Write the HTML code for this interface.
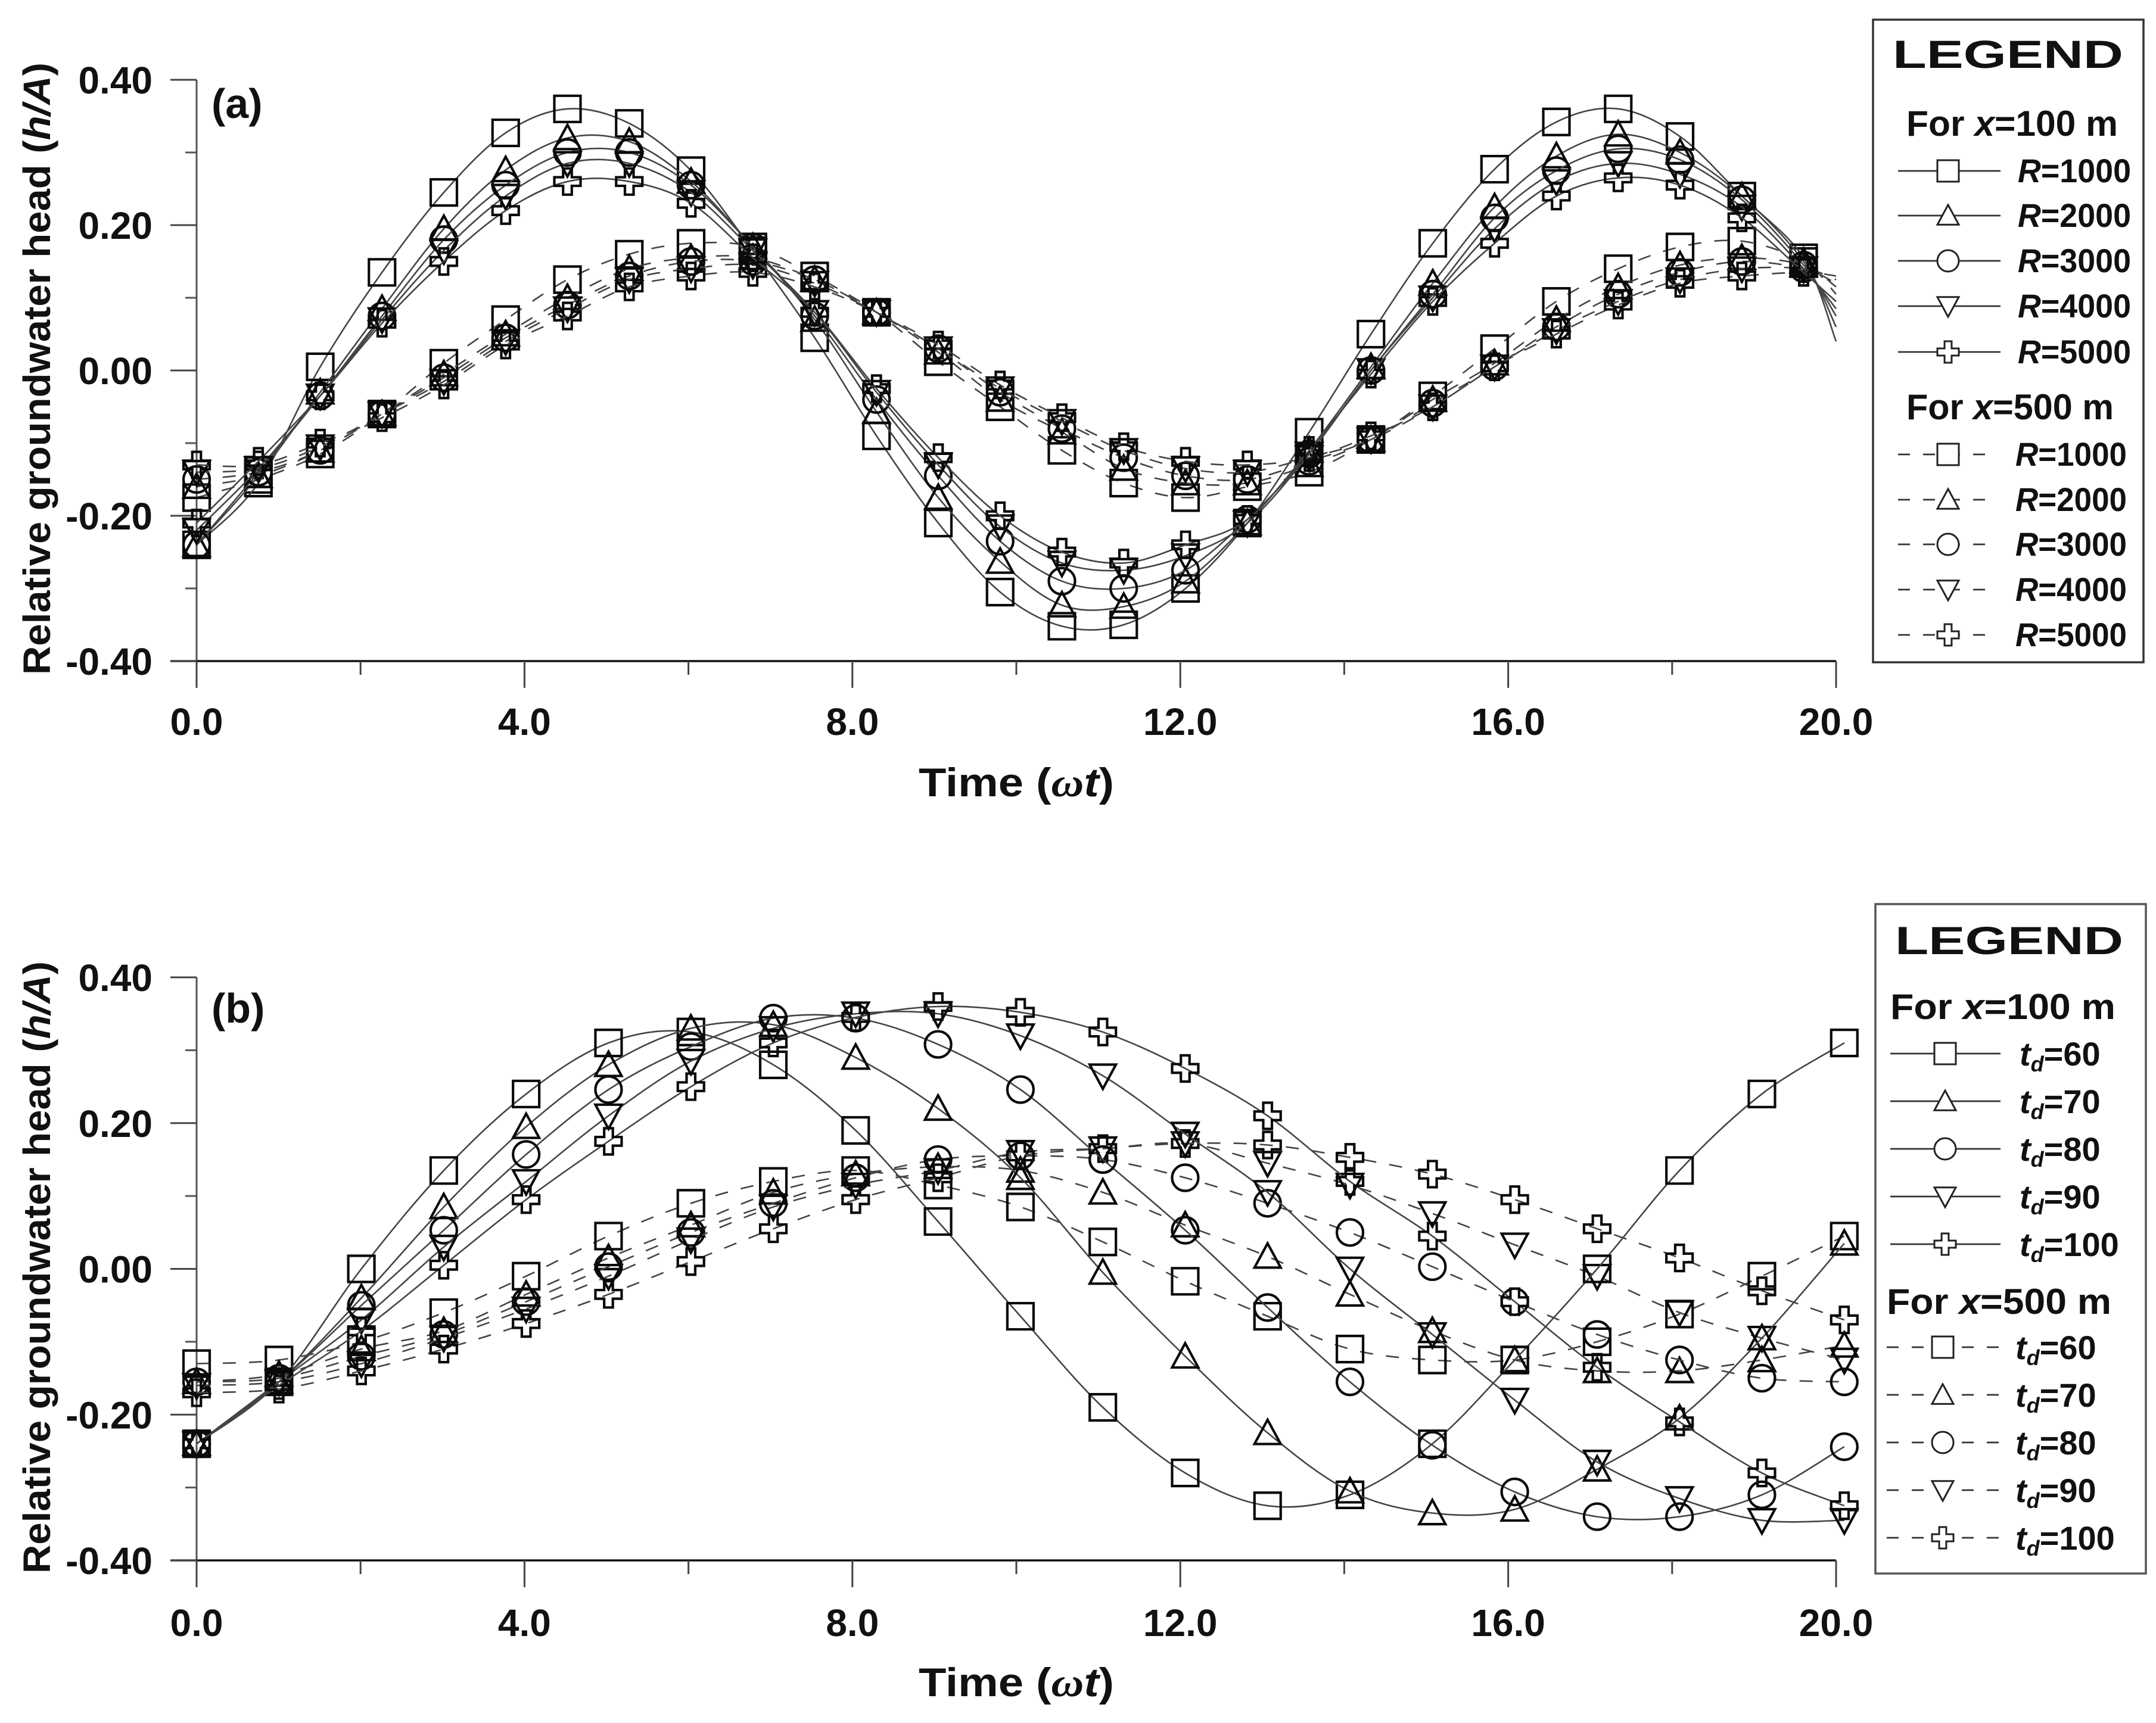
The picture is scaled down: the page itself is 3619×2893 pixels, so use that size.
<!DOCTYPE html>
<html lang="en">
<head>
<meta charset="utf-8">
<title>Relative groundwater head charts</title>
<style>
html,body{margin:0;padding:0;background:#fff;}
svg{display:block;}
text{font-family:"Liberation Sans",sans-serif;font-weight:bold;fill:#111;}
</style>
</head>
<body>
<svg id="figure" xmlns="http://www.w3.org/2000/svg" width="3619" height="2893" viewBox="0 0 3619 2893">
  <rect width="3619" height="2893" fill="#fff"/>

  <g id="panel-a">
    <text x="355" y="198" font-size="70">(a)</text>
    <text transform="translate(84,1133) rotate(-90)" font-size="64" textLength="1028" lengthAdjust="spacingAndGlyphs">Relative groundwater head (<tspan font-style="italic">h/A</tspan>)</text>
    <text x="1542" y="1337" font-size="68" textLength="328" lengthAdjust="spacingAndGlyphs">Time (<tspan font-style="italic" font-family="'Liberation Serif',serif">ω</tspan><tspan font-style="italic">t</tspan>)</text>
  </g>

  <g id="panel-b">
    <text x="355" y="1717" font-size="70">(b)</text>
    <text transform="translate(84,2642) rotate(-90)" font-size="64" textLength="1028" lengthAdjust="spacingAndGlyphs">Relative groundwater head (<tspan font-style="italic">h/A</tspan>)</text>
    <text x="1542" y="2848" font-size="68" textLength="328" lengthAdjust="spacingAndGlyphs">Time (<tspan font-style="italic" font-family="'Liberation Serif',serif">ω</tspan><tspan font-style="italic">t</tspan>)</text>
  </g>

  <g id="legend-a">
    <rect x="3144" y="33" width="454" height="1079" fill="#fff" stroke="#333" stroke-width="3.5"/>
    <text x="3177" y="114" font-size="66" textLength="387" lengthAdjust="spacingAndGlyphs">LEGEND</text>
    <text x="3200" y="228" font-size="60" textLength="355" lengthAdjust="spacingAndGlyphs">For <tspan font-style="italic">x</tspan>=100 m</text>
    <text x="3200" y="704" font-size="60" textLength="348" lengthAdjust="spacingAndGlyphs">For <tspan font-style="italic">x</tspan>=500 m</text>
    <g font-size="56">
      <text x="3387" y="306" textLength="190" lengthAdjust="spacingAndGlyphs"><tspan font-style="italic">R</tspan>=1000</text>
      <text x="3387" y="381" textLength="190" lengthAdjust="spacingAndGlyphs"><tspan font-style="italic">R</tspan>=2000</text>
      <text x="3387" y="457" textLength="190" lengthAdjust="spacingAndGlyphs"><tspan font-style="italic">R</tspan>=3000</text>
      <text x="3387" y="533" textLength="190" lengthAdjust="spacingAndGlyphs"><tspan font-style="italic">R</tspan>=4000</text>
      <text x="3387" y="610" textLength="190" lengthAdjust="spacingAndGlyphs"><tspan font-style="italic">R</tspan>=5000</text>
      <text x="3383" y="782" textLength="187" lengthAdjust="spacingAndGlyphs"><tspan font-style="italic">R</tspan>=1000</text>
      <text x="3383" y="858" textLength="187" lengthAdjust="spacingAndGlyphs"><tspan font-style="italic">R</tspan>=2000</text>
      <text x="3383" y="933" textLength="187" lengthAdjust="spacingAndGlyphs"><tspan font-style="italic">R</tspan>=3000</text>
      <text x="3383" y="1009" textLength="187" lengthAdjust="spacingAndGlyphs"><tspan font-style="italic">R</tspan>=4000</text>
      <text x="3383" y="1085" textLength="187" lengthAdjust="spacingAndGlyphs"><tspan font-style="italic">R</tspan>=5000</text>
    </g>
  </g>

  <g id="legend-b">
    <rect x="3148" y="1518" width="454" height="1124" fill="#fff" stroke="#555" stroke-width="3.5"/>
    <text x="3181" y="1602" font-size="66" textLength="383" lengthAdjust="spacingAndGlyphs">LEGEND</text>
    <text x="3173" y="1711" font-size="60" textLength="378" lengthAdjust="spacingAndGlyphs">For <tspan font-style="italic">x</tspan>=100 m</text>
    <text x="3167" y="2206" font-size="60" textLength="377" lengthAdjust="spacingAndGlyphs">For <tspan font-style="italic">x</tspan>=500 m</text>
    <g font-size="56">
      <text x="3390" y="1789"><tspan font-style="italic">t<tspan font-size="36" dy="10">d</tspan></tspan><tspan dy="-10">=60</tspan></text>
      <text x="3390" y="1869"><tspan font-style="italic">t<tspan font-size="36" dy="10">d</tspan></tspan><tspan dy="-10">=70</tspan></text>
      <text x="3390" y="1949"><tspan font-style="italic">t<tspan font-size="36" dy="10">d</tspan></tspan><tspan dy="-10">=80</tspan></text>
      <text x="3390" y="2029"><tspan font-style="italic">t<tspan font-size="36" dy="10">d</tspan></tspan><tspan dy="-10">=90</tspan></text>
      <text x="3390" y="2109"><tspan font-style="italic">t<tspan font-size="36" dy="10">d</tspan></tspan><tspan dy="-10">=100</tspan></text>
      <text x="3383" y="2282"><tspan font-style="italic">t<tspan font-size="36" dy="10">d</tspan></tspan><tspan dy="-10">=60</tspan></text>
      <text x="3383" y="2362"><tspan font-style="italic">t<tspan font-size="36" dy="10">d</tspan></tspan><tspan dy="-10">=70</tspan></text>
      <text x="3383" y="2442"><tspan font-style="italic">t<tspan font-size="36" dy="10">d</tspan></tspan><tspan dy="-10">=80</tspan></text>
      <text x="3383" y="2522"><tspan font-style="italic">t<tspan font-size="36" dy="10">d</tspan></tspan><tspan dy="-10">=90</tspan></text>
      <text x="3383" y="2602"><tspan font-style="italic">t<tspan font-size="36" dy="10">d</tspan></tspan><tspan dy="-10">=100</tspan></text>
    </g>
  </g>
</svg>

<script>
// ---- chart data ----
const xTickLabels = ['0.0', '4.0', '8.0', '12.0', '16.0', '20.0'];
const xTickValues = [0, 4, 8, 12, 16, 20];
const xMinorValues = [2, 6, 10, 14, 18];
const yTickLabels = ['0.40', '0.20', '0.00', '-0.20', '-0.40'];
const yTickValues = [0.4, 0.2, 0, -0.2, -0.4];
const yMinorValues = [0.3, 0.1, -0.1, -0.3];

const panelATimes = [0, 0.754, 1.508, 2.262, 3.016, 3.77, 4.524, 5.278, 6.032, 6.786, 7.54, 8.294, 9.048, 9.802, 10.556, 11.31, 12.064, 12.818, 13.572, 14.326, 15.08, 15.834, 16.588, 17.342, 18.096, 18.85, 19.604, 20];
const panelAMarkerCount = 27;

const a100R1000 = [-0.24,-0.155,0.005,0.135,0.245,0.327,0.36,0.34,0.275,0.165,0.045,-0.09,-0.21,-0.305,-0.352,-0.35,-0.30,-0.21,-0.085,0.05,0.175,0.277,0.342,0.36,0.322,0.24,0.155,0.04];
const a100R2000 = [-0.24,-0.145,-0.03,0.085,0.195,0.276,0.32,0.315,0.26,0.17,0.07,-0.057,-0.175,-0.263,-0.323,-0.325,-0.29,-0.21,-0.11,0.005,0.12,0.225,0.295,0.325,0.30,0.24,0.15,0.06];
const a100R3000 = [-0.24,-0.14,-0.035,0.075,0.18,0.255,0.30,0.30,0.255,0.17,0.075,-0.04,-0.145,-0.235,-0.29,-0.30,-0.275,-0.205,-0.115,0,0.105,0.21,0.275,0.305,0.29,0.235,0.145,0.075];
const a100R4000 = [-0.22,-0.135,-0.035,0.07,0.165,0.24,0.285,0.285,0.245,0.165,0.08,-0.03,-0.13,-0.215,-0.265,-0.275,-0.255,-0.21,-0.115,0,0.10,0.195,0.26,0.285,0.27,0.225,0.14,0.085];
const a100R5000 = [-0.21,-0.125,-0.035,0.065,0.15,0.22,0.26,0.26,0.23,0.155,0.08,-0.025,-0.12,-0.20,-0.25,-0.265,-0.24,-0.205,-0.11,-0.005,0.095,0.175,0.24,0.265,0.255,0.21,0.135,0.095];
const a500R1000 = [-0.175,-0.15,-0.115,-0.06,0.01,0.07,0.125,0.16,0.175,0.17,0.13,0.08,0.012,-0.05,-0.11,-0.155,-0.175,-0.16,-0.14,-0.095,-0.035,0.03,0.095,0.14,0.17,0.178,0.15,0.105];
const a500R2000 = [-0.16,-0.145,-0.11,-0.06,-0.005,0.05,0.10,0.14,0.155,0.155,0.125,0.08,0.025,-0.04,-0.085,-0.135,-0.155,-0.155,-0.13,-0.095,-0.04,0.01,0.07,0.115,0.145,0.155,0.145,0.115];
const a500R3000 = [-0.15,-0.14,-0.11,-0.06,-0.01,0.045,0.09,0.13,0.15,0.15,0.125,0.08,0.03,-0.03,-0.08,-0.12,-0.145,-0.15,-0.125,-0.095,-0.045,0.005,0.06,0.105,0.135,0.15,0.14,0.12];
const a500R4000 = [-0.14,-0.135,-0.105,-0.06,-0.015,0.04,0.085,0.125,0.14,0.145,0.12,0.08,0.03,-0.025,-0.07,-0.11,-0.135,-0.14,-0.12,-0.095,-0.05,0.005,0.055,0.095,0.125,0.14,0.14,0.125];
const a500R5000 = [-0.13,-0.13,-0.10,-0.065,-0.02,0.035,0.075,0.115,0.13,0.135,0.115,0.08,0.035,-0.02,-0.065,-0.105,-0.125,-0.13,-0.12,-0.09,-0.05,0.005,0.05,0.09,0.12,0.13,0.135,0.13];

const panelBTimes = [0, 1.005, 2.01, 3.015, 4.02, 5.025, 6.03, 7.035, 8.04, 9.045, 10.05, 11.055, 12.06, 13.065, 14.07, 15.075, 16.08, 17.085, 18.09, 19.095, 20.1];
const panelBMarkerCount = 21;

const b100T60 = [-0.24,-0.155,0,0.135,0.24,0.31,0.325,0.28,0.19,0.065,-0.065,-0.19,-0.28,-0.325,-0.31,-0.24,-0.125,0,0.135,0.24,0.31];
const b100T70 = [-0.24,-0.155,-0.04,0.085,0.195,0.28,0.33,0.335,0.29,0.22,0.125,-0.005,-0.12,-0.225,-0.305,-0.335,-0.33,-0.275,-0.205,-0.095,0.035];
const b100T80 = [-0.24,-0.155,-0.05,0.053,0.157,0.246,0.305,0.344,0.344,0.308,0.246,0.15,0.053,-0.053,-0.155,-0.242,-0.306,-0.34,-0.34,-0.31,-0.244];
const b100T90 = [-0.24,-0.155,-0.07,0.03,0.12,0.21,0.285,0.33,0.35,0.35,0.32,0.265,0.185,0.105,0,-0.09,-0.18,-0.265,-0.315,-0.345,-0.345];
const b100T100 = [-0.24,-0.16,-0.085,0.005,0.095,0.175,0.25,0.31,0.345,0.36,0.352,0.325,0.275,0.21,0.12,0.045,-0.045,-0.135,-0.21,-0.28,-0.325];
const b500T60 = [-0.13,-0.125,-0.10,-0.06,-0.01,0.045,0.09,0.12,0.135,0.115,0.085,0.037,-0.017,-0.065,-0.11,-0.125,-0.125,-0.10,-0.062,-0.01,0.045];
const b500T70 = [-0.155,-0.145,-0.11,-0.085,-0.035,0.015,0.06,0.105,0.13,0.14,0.135,0.105,0.06,0.017,-0.035,-0.085,-0.125,-0.14,-0.14,-0.125,-0.105];
const b500T80 = [-0.155,-0.15,-0.12,-0.09,-0.045,0.003,0.05,0.09,0.125,0.15,0.155,0.15,0.125,0.09,0.05,0.003,-0.045,-0.09,-0.125,-0.15,-0.155];
const b500T90 = [-0.16,-0.155,-0.13,-0.095,-0.055,-0.01,0.04,0.085,0.115,0.135,0.16,0.165,0.172,0.145,0.115,0.076,0.033,-0.01,-0.06,-0.095,-0.125];
const b500T100 = [-0.17,-0.165,-0.14,-0.11,-0.075,-0.035,0.01,0.055,0.095,0.125,0.155,0.165,0.172,0.17,0.153,0.13,0.095,0.055,0.015,-0.03,-0.07];

// ---- drawing ----
const SVGNS = 'http://www.w3.org/2000/svg';
const shapeOrder = ['square', 'triangle-up', 'circle', 'triangle-down', 'cross'];
const xAxisOrigin = 330;
const xAxisPerUnit = 137.6;

function xScale(t) {
  return xAxisOrigin + t * xAxisPerUnit;
}
function yScaleFor(yTop, yBottom) {
  return function (v) {
    return yBottom - (v + 0.4) / 0.8 * (yBottom - yTop);
  };
}
function make(tag, attrs, parent) {
  const el = document.createElementNS(SVGNS, tag);
  for (const k in attrs) el.setAttribute(k, attrs[k]);
  parent.appendChild(el);
  return el;
}
function markerPath(shape, x, y, s) {
  const r = s / 2;
  if (shape === 'square') return `M${x-r} ${y-r}H${x+r}V${y+r}H${x-r}Z`;
  if (shape === 'triangle-up') return `M${x} ${y-r}L${x+r} ${y+r*0.85}H${x-r}Z`;
  if (shape === 'triangle-down') return `M${x} ${y+r}L${x+r} ${y-r*0.85}H${x-r}Z`;
  if (shape === 'circle') return `M${x-r} ${y}A${r} ${r} 0 1 1 ${x+r} ${y}A${r} ${r} 0 1 1 ${x-r} ${y}Z`;
  const a = r * 0.33;
  return `M${x-a} ${y-r}H${x+a}V${y-a}H${x+r}V${y+a}H${x+a}V${y+r}H${x-a}V${y+a}H${x-r}V${y-a}H${x-a}Z`;
}
function splinePath(pts) {
  let d = `M${pts[0][0].toFixed(1)} ${pts[0][1].toFixed(1)}`;
  for (let i = 0; i < pts.length - 1; i++) {
    const p0 = pts[Math.max(i - 1, 0)];
    const p1 = pts[i];
    const p2 = pts[i + 1];
    const p3 = pts[Math.min(i + 2, pts.length - 1)];
    const c1x = p1[0] + (p2[0] - p0[0]) / 6;
    const c1y = p1[1] + (p2[1] - p0[1]) / 6;
    const c2x = p2[0] - (p3[0] - p1[0]) / 6;
    const c2y = p2[1] - (p3[1] - p1[1]) / 6;
    d += `C${c1x.toFixed(1)} ${c1y.toFixed(1)} ${c2x.toFixed(1)} ${c2y.toFixed(1)} ${p2[0].toFixed(1)} ${p2[1].toFixed(1)}`;
  }
  return d;
}
function drawAxes(parent, yTop, yBottom, labelBaseline, prefix) {
  const yScale = yScaleFor(yTop, yBottom);
  const g = make('g', {}, parent);
  
  
  const yLine = make('line', {x1: xAxisOrigin, x2: xAxisOrigin, y1: yTop, y2: yBottom, stroke: '#555', 'stroke-width': 3}, g);
  
  
  const xLine = make('line', {x1: 286, x2: xScale(20), y1: yBottom, y2: yBottom, stroke: '#111', 'stroke-width': 3.5}, g);
  
  
  xTickValues.forEach(function (v, i) {
    const tick = make('line', {x1: xScale(v), x2: xScale(v), y1: yBottom, y2: yBottom + 45, stroke: '#444', 'stroke-width': 3}, g);
    
    
    const lab = make('text', {x: xScale(v), y: labelBaseline, 'text-anchor': 'middle', 'font-size': 64}, g);
    
    
    lab.textContent = xTickLabels[i];
  });
  xMinorValues.forEach(function (v) {
    const tick = make('line', {x1: xScale(v), x2: xScale(v), y1: yBottom, y2: yBottom + 23, stroke: '#444', 'stroke-width': 3}, g);
    
    
  });
  yTickValues.forEach(function (v, i) {
    const tick = make('line', {x1: 286, x2: xAxisOrigin, y1: yScale(v), y2: yScale(v), stroke: '#444', 'stroke-width': 3}, g);
    
    
    const lab = make('text', {x: 256, y: yScale(v) + 23, 'text-anchor': 'end', 'font-size': 64}, g);
    
    
    lab.textContent = yTickLabels[i];
  });
  yMinorValues.forEach(function (v) {
    const tick = make('line', {x1: 311, x2: xAxisOrigin, y1: yScale(v), y2: yScale(v), stroke: '#555', 'stroke-width': 3}, g);
    
    
  });
}
function drawSeries(parent, name, times, values, markerCount, shape, dashed, yScale) {
  const g = make('g', {}, parent);
  
  
  const pts = times.map(function (t, i) { return [xScale(t), yScale(values[i])]; });
  const attrs = {d: splinePath(pts), fill: 'none', stroke: '#444', 'stroke-width': 2.6};
  if (dashed) attrs['stroke-dasharray'] = '22 22';
  const line = make('path', attrs, g);
  
  
  for (let i = 0; i < markerCount; i++) {
    const m = make('path', {d: markerPath(shape, pts[i][0], pts[i][1], 44), fill: 'none', stroke: '#0a0a0a', 'stroke-width': 4.2}, g);
    
    
  }
}
function drawLegendSwatch(parent, x1, x2, mx, y, shape, dashed) {
  const attrs = {x1: x1, x2: x2, y1: y, y2: y, stroke: '#333', 'stroke-width': 2.8};
  if (dashed) attrs['stroke-dasharray'] = '20 22';
  const line = make('line', attrs, parent);
  
  
  const mark = make('path', {d: markerPath(shape, mx, y, 36), fill: '#fff', stroke: '#222', 'stroke-width': 3}, parent);
  
  
}

const panelA = document.getElementById('panel-a');
const panelB = document.getElementById('panel-b');
const legendA = document.getElementById('legend-a');
const legendB = document.getElementById('legend-b');

drawAxes(panelA, 134, 1110, 1234, 'panel-a');
drawAxes(panelB, 1641, 2620, 2747, 'panel-b');

const yA = yScaleFor(134, 1110);
const yB = yScaleFor(1641, 2620);

[a500R1000, a500R2000, a500R3000, a500R4000, a500R5000].forEach(function (vals, i) {
  drawSeries(panelA, 'series-x500-r' + (i + 1) + '000', panelATimes, vals, panelAMarkerCount, shapeOrder[i], true, yA);
});
[a100R1000, a100R2000, a100R3000, a100R4000, a100R5000].forEach(function (vals, i) {
  drawSeries(panelA, 'series-x100-r' + (i + 1) + '000', panelATimes, vals, panelAMarkerCount, shapeOrder[i], false, yA);
});
[b500T60, b500T70, b500T80, b500T90, b500T100].forEach(function (vals, i) {
  drawSeries(panelB, 'series-x500-td' + (60 + i * 10), panelBTimes, vals, panelBMarkerCount, shapeOrder[i], true, yB);
});
[b100T60, b100T70, b100T80, b100T90, b100T100].forEach(function (vals, i) {
  drawSeries(panelB, 'series-x100-td' + (60 + i * 10), panelBTimes, vals, panelBMarkerCount, shapeOrder[i], false, yB);
});

[287, 362, 438, 514, 591].forEach(function (y, i) {
  drawLegendSwatch(legendA, 3186, 3358, 3270, y, shapeOrder[i], false);
});
[763, 839, 914, 990, 1066].forEach(function (y, i) {
  drawLegendSwatch(legendA, 3186, 3339, 3270, y, shapeOrder[i], true);
});
[1769, 1849, 1929, 2009, 2089].forEach(function (y, i) {
  drawLegendSwatch(legendB, 3173, 3358, 3265, y, shapeOrder[i], false);
});
[2262, 2342, 2422, 2502, 2582].forEach(function (y, i) {
  drawLegendSwatch(legendB, 3167, 3355, 3261, y, shapeOrder[i], true);
});
</script>
</body>
</html>
